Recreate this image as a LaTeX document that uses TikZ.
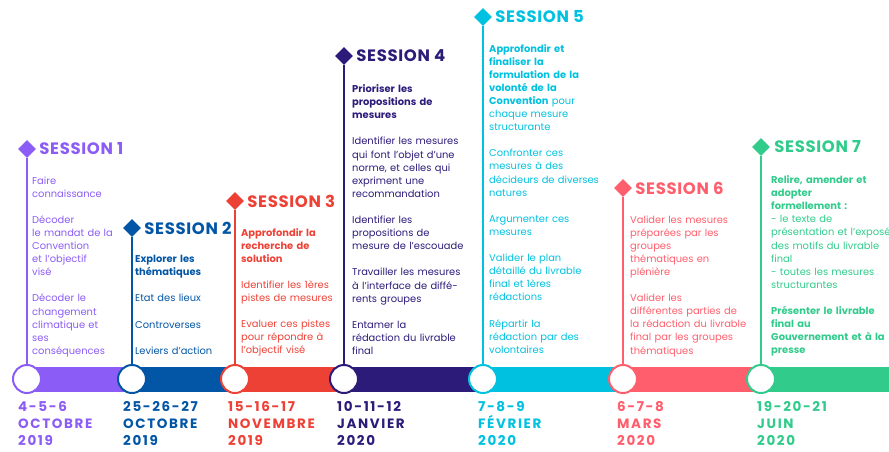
\documentclass[tikz,border=0pt]{standalone}
\usepackage{fontspec}
\setmainfont{Poppins}
\usetikzlibrary{shapes.geometric}

\definecolor{sOne}{HTML}{8B5CF6}
\definecolor{sTwo}{HTML}{0356A5}
\definecolor{sThree}{HTML}{EE4136}
\definecolor{sFour}{HTML}{2D1B7A}
\definecolor{sFive}{HTML}{00C1DF}
\definecolor{sSix}{HTML}{FF5E6C}
\definecolor{sSeven}{HTML}{31CB8B}

\tikzset{
  gem/.style={diamond, fill=#1, inner sep=0pt, minimum size=18pt},
  dot/.style={circle, draw=#1, line width=2pt, fill=white, minimum size=28pt, inner sep=0pt},
  stem/.style={draw=#1, line width=2pt},
  band/.style={draw=#1, line width=25pt, line cap=butt},
  sessname/.style={text=#1, font=\fontsize{16.5}{16.5}\selectfont\bfseries\addfontfeatures{LetterSpace=4}, anchor=west, inner sep=0pt},
  notes/.style={text=#1, font=\fontsize{9.9}{13.1}\selectfont, anchor=base west, inner sep=0pt, align=left, text width=170pt},
  datelabel/.style={text=#1, font=\fontsize{13.5}{17.3}\selectfont\bfseries\addfontfeatures{LetterSpace=12}, anchor=base west, inner sep=0pt, align=left, text width=110pt}
}

\begin{document}
\begin{tikzpicture}[x=1pt,y=-1pt]
  \useasboundingbox (0,0) rectangle (889,451);

  % timeline band
  \coordinate (b1) at (27,379);
  \coordinate (b2) at (132,379);
  \coordinate (b3) at (235,379);
  \coordinate (b4) at (344,379);
  \coordinate (b5) at (483,379);
  \coordinate (b6) at (623,379);
  \coordinate (b7) at (761,379);
  \coordinate (bend) at (889,379);
  \path
     (b1) edge[band=sOne] (b2)
     (b2) edge[band=sTwo] (b3)
     (b3) edge[band=sThree] (b4)
     (b4) edge[band=sFour] (b5)
     (b5) edge[band=sFive] (b6)
     (b6) edge[band=sSix] (b7)
     (b7) edge[band=sSeven] (bend);

  % session 1
  \node[dot=sOne] (dot1) at (b1) {};
  \node[gem=sOne] (dia1) at (27,149) {};
  \node[sessname=sOne] (ses1) at ([xshift=3pt]dia1.east) {SESSION 1};
  \node[notes=sOne] (txt1) at (32,184) {Faire\\connaissance\\[13.1pt]
    Décoder\\le mandat de la\\Convention\\et l’objectif\\visé\\[13.1pt]
    Décoder le\\changement\\climatique et\\ses\\conséquences};
  \node[datelabel=sOne] (day1) at (18,411) {4-5-6\\OCTOBRE\\2019};

  % session 2
  \node[dot=sTwo] (dot2) at (b2) {};
  \node[gem=sTwo] (dia2) at (132,228) {};
  \node[sessname=sTwo] (ses2) at ([xshift=3pt]dia2.east) {SESSION 2};
  \node[notes=sTwo] (txt2) at (135,262.5) {\textbf{Explorer les}\\\textbf{thématiques}\\[13.1pt]
    Etat des lieux\\[13.1pt]Controverses\\[13.1pt]Leviers d’action};
  \node[datelabel=sTwo] (day2) at (123,411) {25-26-27\\OCTOBRE\\2019};

  % session 3
  \node[dot=sThree] (dot3) at (b3) {};
  \node[gem=sThree] (dia3) at (235,201) {};
  \node[sessname=sThree] (ses3) at ([xshift=3pt]dia3.east) {SESSION 3};
  \node[notes=sThree] (txt3) at (241,236) {\textbf{Approfondir la}\\\textbf{recherche de}\\\textbf{solution}\\[13.1pt]
    Identifier les 1ères\\pistes de mesures\\[13.1pt]
    Evaluer ces pistes\\pour répondre à\\l’objectif visé};
  \node[datelabel=sThree] (day3) at (228,411) {15-16-17\\NOVEMBRE\\2019};

  % session 4
  \node[dot=sFour] (dot4) at (b4) {};
  \node[gem=sFour] (dia4) at (344,56) {};
  \node[sessname=sFour] (ses4) at ([xshift=3pt]dia4.east) {SESSION 4};
  \node[notes=sFour] (txt4) at (352,92.5) {\textbf{Prioriser les}\\\textbf{propositions de}\\\textbf{mesures}\\[13.1pt]
    Identifier les mesures\\qui font l’objet d’une\\norme, et celles qui\\expriment une\\recommandation\\[13.1pt]
    Identifier les\\propositions de\\mesure de l’escouade\\[13.1pt]
    Travailler les mesures\\à l’interface de diffé-\\rents groupes\\[13.1pt]
    Entamer la\\rédaction du livrable\\final};
  \node[datelabel=sFour] (day4) at (337,411) {10-11-12\\JANVIER\\2020};

  % session 5
  \node[dot=sFive] (dot5) at (b5) {};
  \node[gem=sFive] (dia5) at (483,17) {};
  \node[sessname=sFive] (ses5) at ([xshift=3pt]dia5.east) {SESSION 5};
  \node[notes=sFive] (txt5) at (489,52) {\textbf{Approfondir et}\\\textbf{finaliser la}\\\textbf{formulation de la}\\\textbf{volonté de la}\\\textbf{Convention} pour\\chaque mesure\\structurante\\[13.1pt]
    Confronter ces\\mesures à des\\décideurs de diverses\\natures\\[13.1pt]
    Argumenter ces\\mesures\\[13.1pt]
    Valider le plan\\détaillé du livrable\\final et 1ères\\rédactions\\[13.1pt]
    Répartir la\\rédaction par des\\volontaires};
  \node[datelabel=sFive] (day5) at (478,411) {7-8-9\\FÉVRIER\\2020};

  % session 6
  \node[dot=sSix] (dot6) at (b6) {};
  \node[gem=sSix] (dia6) at (623,188) {};
  \node[sessname=sSix] (ses6) at ([xshift=3pt]dia6.east) {SESSION 6};
  \node[notes=sSix] (txt6) at (630,223) {Valider les mesures\\préparées par les\\groupes\\thématiques en\\plénière\\[13.1pt]
    Valider les\\différentes parties de\\la rédaction du livrable\\final par les groupes\\thématiques};
  \node[datelabel=sSix] (day6) at (617,411) {6-7-8\\MARS\\2020};

  % session 7
  \node[dot=sSeven] (dot7) at (b7) {};
  \node[gem=sSeven] (dia7) at (761,147) {};
  \node[sessname=sSeven] (ses7) at ([xshift=4pt]dia7.east) {SESSION 7};
  \node[notes=sSeven] (txt7) at (771,183.5) {\textbf{Relire, amender et}\\\textbf{adopter}\\\textbf{formellement :}\\- le texte de\\présentation et l’exposé\\des motifs du livrable\\final\\- toutes les mesures\\structurantes\\[13.1pt]
    \textbf{Présenter le livrable}\\\textbf{final au}\\\textbf{Gouvernement et à la}\\\textbf{presse}};
  \node[datelabel=sSeven] (day7) at (757,411) {19-20-21\\JUIN\\2020};

  % stems
  \path
     (dia1) edge[stem=sOne] (dot1)
     (dia2) edge[stem=sTwo] (dot2)
     (dia3) edge[stem=sThree] (dot3)
     (dia4) edge[stem=sFour] (dot4)
     (dia5) edge[stem=sFive] (dot5)
     (dia6) edge[stem=sSix] (dot6)
     (dia7) edge[stem=sSeven] (dot7);
\end{tikzpicture}
\end{document}
